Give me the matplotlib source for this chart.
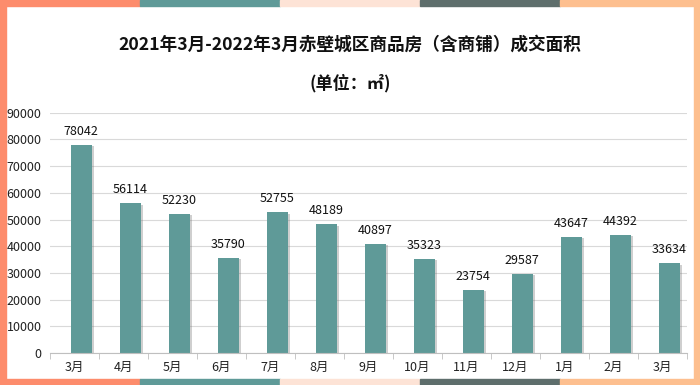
import matplotlib
matplotlib.use("Agg")
import matplotlib.pyplot as plt
import matplotlib.patheffects as pe
from matplotlib.patches import Rectangle
import numpy as np

plt.rcParams['font.family'] = ['Noto Sans CJK SC', 'DejaVu Sans']

categories = ["3月", "4月", "5月", "6月", "7月", "8月", "9月", "10月", "11月", "12月", "1月", "2月", "3月"]
values = [78042, 56114, 52230, 35790, 52755, 48189, 40897, 35323, 23754, 29587, 43647, 44392, 33634]
yticks = [0, 10000, 20000, 30000, 40000, 50000, 60000, 70000, 80000, 90000]
title = "2021年3月-2022年3月赤壁城区商品房（含商铺）成交面积"
subtitle = "(单位：㎡)"

bar_color = "#5f9a98"

fig = plt.figure(figsize=(7, 3.85), dpi=100)
fig.patch.set_facecolor("white")

ax = fig.add_axes([0.0714, 0.083, 0.910, 0.624])
x = np.arange(len(categories))
offset = 0.14
bars = ax.bar(x + offset, values, width=0.43, color=bar_color, zorder=3,
              path_effects=[pe.SimplePatchShadow(offset=(1.5, -1), shadow_rgbFace="#777777", alpha=0.35), pe.Normal()])
for xi, v in zip(x, values):
    ax.text(xi + offset, v + 2600, f"{v}", ha="center", va="bottom", fontsize=9, color="#111111", zorder=5)

ax.set_xlim(-0.5, len(categories) - 0.5)
ax.set_ylim(0, 90000)
ax.set_yticks(yticks)
ax.set_yticklabels([str(t) for t in yticks], fontsize=9, color="#222222")
ax.set_xticks(x)
ax.set_xticklabels(categories, fontsize=9, color="#222222")
ax.set_xticks(np.arange(-0.5, len(categories), 1), minor=True)
ax.tick_params(axis="x", which="major", length=0, pad=6)
ax.tick_params(axis="x", which="minor", length=4, color="#bfbfbf", direction="out")
ax.tick_params(axis="y", length=0, pad=6)
ax.grid(axis="y", color="#d9d9d9", linewidth=0.8, zorder=0)
for s in ["top", "right", "left"]:
    ax.spines[s].set_visible(False)
ax.spines["bottom"].set_color("#bfbfbf")
ax.spines["bottom"].set_zorder(4)

fig.text(0.5, 0.883, title, ha="center", va="center", fontsize=12.7, fontweight="bold", color="#111111")
fig.text(0.5, 0.785, subtitle, ha="center", va="center", fontsize=12.3, fontweight="bold", color="#111111")

# border decoration
seg_colors = ["#fd8c6c", "#5f9a98", "#fde3d6", "#5e6e6c", "#fdbf8f"]
h = 6 / 385
for i, c in enumerate(seg_colors):
    fig.add_artist(Rectangle((i * 0.2, 1 - h), 0.2, h, transform=fig.transFigure, color=c, zorder=20))
    fig.add_artist(Rectangle((i * 0.2, 0), 0.2, h, transform=fig.transFigure, color=c, zorder=20))
w = 6 / 700
fig.add_artist(Rectangle((0, 0), w, 1, transform=fig.transFigure, color="#fd8c6c", zorder=20))
fig.add_artist(Rectangle((1 - w, 0), w, 1, transform=fig.transFigure, color="#fdbf8f", zorder=20))

fig.savefig("out.png", dpi=100)
